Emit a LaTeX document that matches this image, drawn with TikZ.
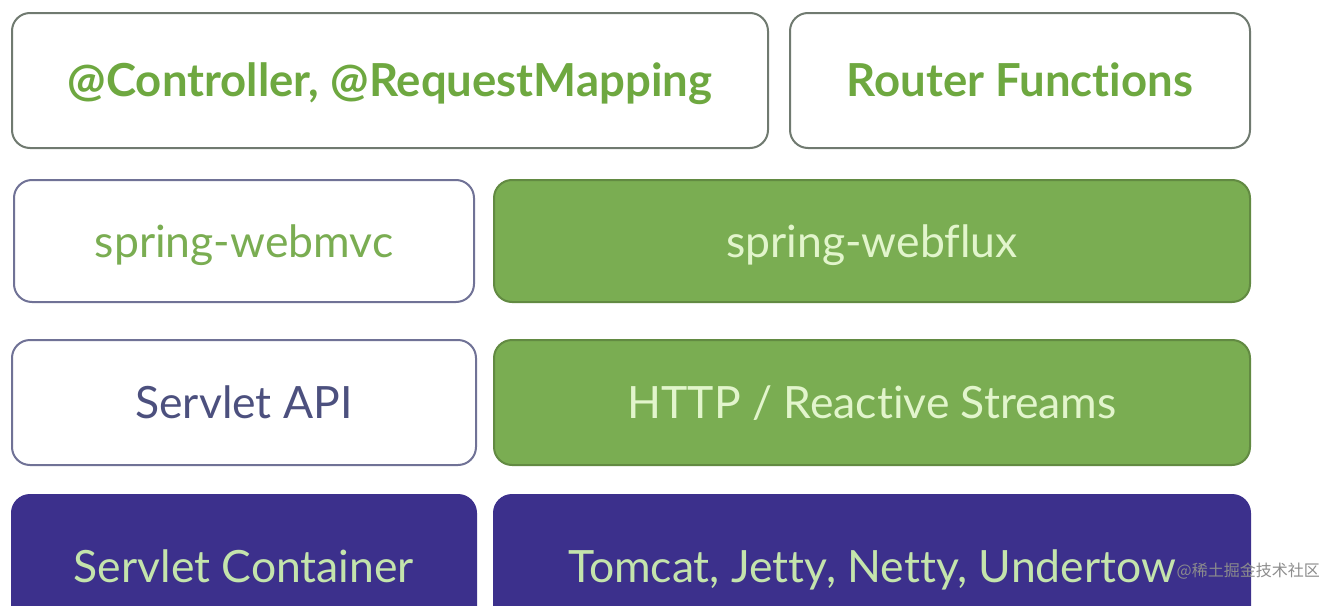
\documentclass[tikz,border=0pt]{standalone}
\usepackage{fontspec}
\setmainfont{Lato}[Ligatures=NoCommon]
\newfontfamily\cjk{Noto Sans CJK SC}
\definecolor{springgreen}{RGB}{122,173,82}
\definecolor{labelgreen}{RGB}{110,168,64}
\definecolor{palegreen}{RGB}{226,245,204}
\definecolor{deeppurple}{RGB}{60,48,140}
\definecolor{purpletext}{RGB}{196,228,172}
\definecolor{greyline}{RGB}{112,122,112}
\definecolor{slateline}{RGB}{112,114,150}
\definecolor{slatetext}{RGB}{76,80,126}
\tikzset{
    layer/.style={rounded corners=18pt, line width=2pt, inner sep=0pt,
        text height=32pt, text depth=0pt,
        font=\fontsize{44.5}{50}\selectfont},
    whitebox/.style={layer, draw=greyline, fill=white, text=labelgreen},
    greenbox/.style={layer, draw=springgreen!80!black, fill=springgreen, text=palegreen},
    purplebox/.style={layer, draw=deeppurple, fill=deeppurple, text=purpletext}
}
\begin{document}
\begin{tikzpicture}[x=1pt, y=-1pt]
    \useasboundingbox (0,0) rectangle (1325,605);
    \clip (0,0) rectangle (1325,605);
    % annotations
    \node[whitebox, minimum width=756pt, minimum height=135pt,
        font=\fontsize{45.5}{50}\selectfont\bfseries] (ctrl) at (390,80.5) {@Controller, @RequestMapping};
    \node[whitebox, minimum width=460pt, minimum height=135pt,
        font=\fontsize{45.5}{50}\selectfont\bfseries] (router) at (1020,80.5) {Router Functions};
    % web frameworks
    \node[whitebox, draw=slateline, text=springgreen, minimum width=460pt, minimum height=122pt] (webmvc) at (244,241) {spring-webmvc};
    \node[greenbox, minimum width=756pt, minimum height=122pt] (webflux) at (872,241) {spring-webflux};
    % apis
    \node[whitebox, draw=slateline, text=slatetext, minimum width=464pt, minimum height=125pt] (servletapi) at (244,402.5) {Servlet API};
    \node[greenbox, minimum width=756pt, minimum height=125pt] (streams) at (872,402.5) {HTTP / Reactive Streams};
    % servers
    \node[purplebox, minimum width=464pt, minimum height=142pt] (container) at (244,566) {Servlet Container};
    \node[purplebox, minimum width=756pt, minimum height=142pt] (servers) at (872,566) {Tomcat, Jetty, Netty, Undertow};
    \node[anchor=east, text=black!45, inner sep=0pt, font=\cjk\fontsize{16}{18}\selectfont] (mark) at (1320,571) {@稀土掘金技术社区};
\end{tikzpicture}
\end{document}
